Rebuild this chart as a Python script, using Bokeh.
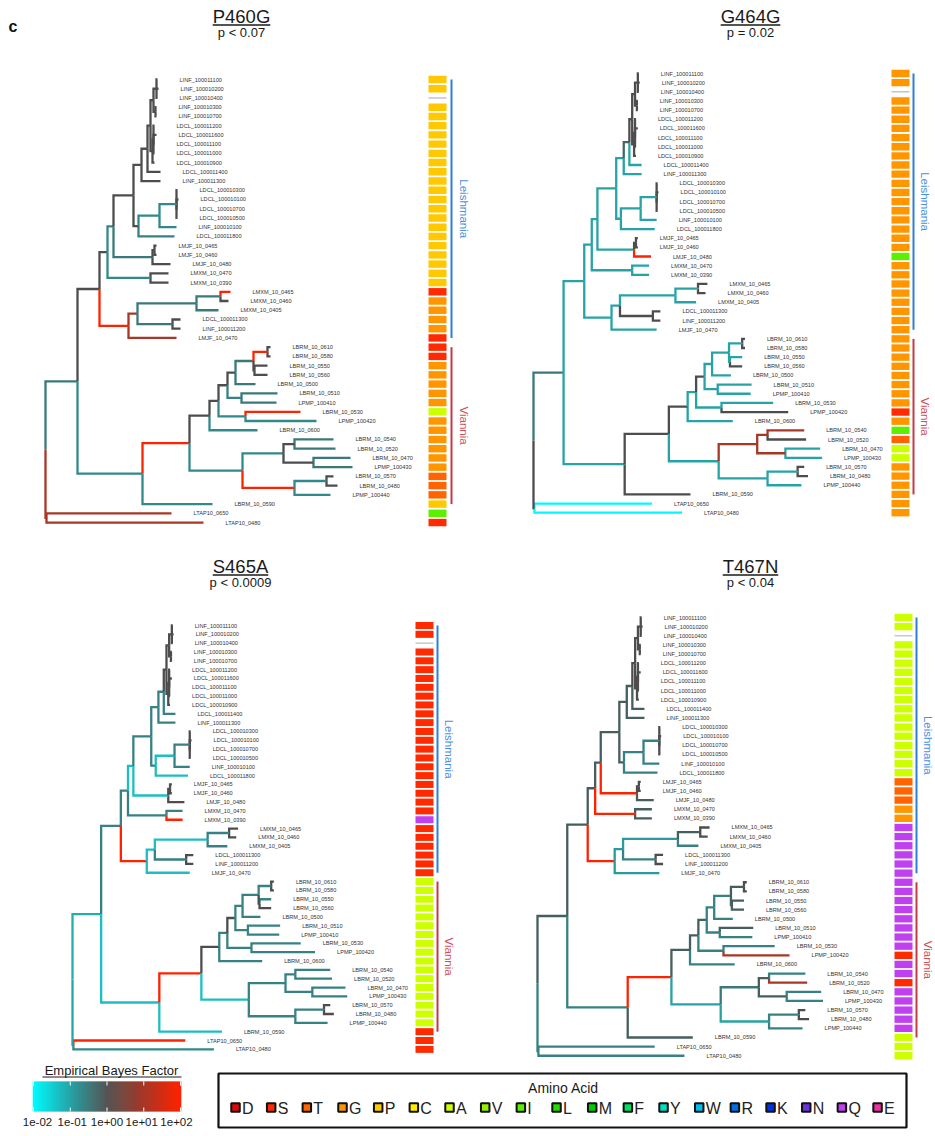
import numpy as np
from bokeh.plotting import figure
from bokeh.models import Range1d, ColumnDataSource, LinearColorMapper
from bokeh.transform import transform
from bokeh.core.properties import value
from bokeh.embed import file_html
from bokeh.resources import INLINE

# ---------------------------------------------------------------- data
tip_labels = [
    "LINF_100011100", "LINF_100010200", "LINF_100010400", "LINF_100010300", "LINF_100010700",
    "LDCL_100011200", "LDCL_100011600", "LDCL_100011100", "LDCL_100011000", "LDCL_100010900",
    "LDCL_100011400", "LINF_100011300", "LDCL_100010300", "LDCL_100010100", "LDCL_100010700",
    "LDCL_100010500", "LINF_100010100", "LDCL_100011800", "LMJF_10_0465", "LMJF_10_0460",
    "LMJF_10_0480", "LMXM_10_0470", "LMXM_10_0390", "LMXM_10_0465", "LMXM_10_0460",
    "LMXM_10_0405", "LDCL_100011300", "LINF_100011200", "LMJF_10_0470", "LBRM_10_0610",
    "LBRM_10_0580", "LBRM_10_0550", "LBRM_10_0560", "LBRM_10_0500", "LBRM_10_0510",
    "LPMP_100410", "LBRM_10_0530", "LPMP_100420", "LBRM_10_0600", "LBRM_10_0540",
    "LBRM_10_0520", "LBRM_10_0470", "LPMP_100430", "LBRM_10_0570", "LBRM_10_0480",
    "LPMP_100440", "LBRM_10_0590", "LTAP10_0650", "LTAP10_0480"]

# distance of each tip from the root (tree units)
tip_depth = [112, 113, 112, 111, 111, 109, 111, 109, 109, 109,
             115, 115, 132, 133, 132, 132, 131, 129, 111, 111,
             125, 123, 123, 185, 183, 173, 135, 135, 131, 225,
             225, 222, 222, 210, 232, 231, 255, 271, 212, 288,
             290, 305, 307, 288, 292, 285, 167, 126, 158]

# internal nodes: (first tip, last tip, depth from root)
internal_nodes = [
    (1, 49, 0), (48, 49, 1), (1, 47, 32), (1, 29, 54), (1, 23, 62), (1, 21, 68),
    (1, 18, 88), (1, 12, 96), (1, 11, 102), (1, 10, 105), (1, 5, 108), (1, 3, 111),
    (4, 5, 110), (6, 10, 107), (6, 9, 108), (13, 18, 93), (13, 17, 114), (13, 16, 131),
    (19, 21, 107), (19, 20, 109), (22, 23, 105), (24, 29, 83), (24, 28, 92),
    (24, 26, 151), (24, 25, 175), (27, 28, 127), (30, 47, 97), (30, 46, 144),
    (30, 39, 164), (30, 38, 173), (30, 36, 182), (30, 34, 190), (30, 33, 208),
    (30, 31, 222), (32, 33, 209), (35, 36, 196), (37, 38, 200), (40, 46, 197),
    (40, 43, 238), (40, 41, 249), (42, 43, 268), (44, 46, 249), (44, 45, 281)]

panel_titles = ["P460G", "G464G", "S465A", "T467N"]
panel_pvalues = ["p < 0.07", "p = 0.02", "p < 0.0009", "p < 0.04"]

# residue at each tip ("-" = gap)
residues_P460G = "PP-PPPPPPPPPPPPPPPPPPPPSGGGGSSSGGGGGAGGGGGGTTTPIS"
residues_G464G = "GG-GGGGGGGGGGGGGGGGGIGGGGGGGGGGGGGGGGSGITAAGGGGGG"
residues_S465A = "SS-SSSSSSSSSSSSSSSSSSSQSSSSSSAAAAAAAAAAAAAAAAASSS"
residues_T467N = "AA-AAAAAAAAAAAAAAATTTGGQQQQQQQQQQQQQQSQQSQQQQQAAA"

amino_acids = list("DSTGPCAVILMFYWRKNQE")
amino_colors = ["#dd0a0a", "#ff2a00", "#ff6400", "#ff9600", "#ffc800", "#ffee00",
                "#ccff00", "#99ee00", "#5cf000", "#22dd00", "#00cc00", "#00dd60",
                "#00ddc0", "#00bbee", "#0070e8", "#0030e0", "#6a30e8", "#c040f0",
                "#ee30a0"]

# log10 Empirical Bayes Factor per branch (branch keyed by clade tip range)
short_branches = [(1, 10), (1, 5), (6, 10), (1, 3), (4, 5), (6, 9)] + \
    [(k, k) for k in range(1, 11)] + \
    [(13, 13), (14, 14), (15, 15), (16, 16), (19, 20), (19, 19), (20, 20),
     (24, 24), (25, 25), (27, 27), (28, 28), (30, 30), (31, 31), (44, 44), (45, 45)]

ebf_default = [0.0, -1.0, -0.6, -0.2]
ebf_P460G = {(1, 47): -0.5, (48, 49): 1, (48, 48): 1, (49, 49): 1, (30, 47): -0.7,
             (24, 29): 2, (1, 21): -0.7, (22, 23): -0.7, (19, 21): -0.5,
             (13, 17): -0.7, (13, 16): -0.7, (17, 17): -0.7, (18, 18): -0.6,
             (24, 28): 1, (29, 29): 1, (24, 26): -0.5, (27, 28): -0.5,
             (24, 25): -0.5, (24, 24): 2, (26, 26): -0.5, (30, 46): 2,
             (47, 47): -0.7, (40, 46): -0.7, (39, 39): -0.7, (37, 38): -0.7,
             (37, 37): 2, (38, 38): -0.7, (30, 33): -0.5, (34, 34): -0.5,
             (35, 36): -0.6, (35, 35): -0.5, (36, 36): -0.5, (30, 31): 2,
             (40, 43): -0.7, (40, 40): -0.5, (41, 41): -0.5, (42, 42): -0.5,
             (43, 43): -0.5, (44, 46): 2, (44, 45): -0.7, (46, 46): -0.7}
ebf_G464G = {(1, 47): -0.5, (48, 49): 0, (48, 48): -2, (49, 49): -2, (21, 21): 2,
             (1, 11): -0.3, (27, 28): 0, (30, 46): 0, (47, 47): 0, (30, 39): 0,
             (30, 36): 0, (38, 38): 0, (33, 33): 0, (40, 43): 1, (40, 41): 1,
             (42, 43): 1, (40, 40): 1, (41, 41): 0}
ebf_S465A = {(1, 47): -1.1, (48, 49): -1.0, (48, 48): 2, (49, 49): -0.7,
             (30, 47): -1.3, (24, 29): 2, (1, 21): -1.3, (19, 21): -1.3, (21, 21): 0,
             (13, 17): -1.3, (18, 18): -1.3, (23, 23): 2, (24, 28): -1.3,
             (29, 29): -1.3, (24, 26): -1.3, (30, 46): 2, (47, 47): -1.3,
             (30, 39): 0, (40, 46): -1.3, (30, 36): 0, (32, 33): 0, (33, 33): 0}
ebf_T467N = {(48, 49): -0.6, (48, 48): -0.6, (49, 49): -0.6, (30, 47): -0.6,
             (24, 29): 2, (22, 23): 2, (19, 21): 2, (13, 17): -0.6, (13, 16): -0.6,
             (17, 17): -0.6, (18, 18): -0.6, (24, 28): -0.9, (29, 29): -0.9,
             (24, 26): -0.9, (27, 28): -0.6, (26, 26): -0.6, (30, 46): 2,
             (40, 46): -1.0, (39, 39): -0.6, (37, 38): -0.6, (37, 37): -0.6,
             (38, 38): 1, (30, 34): -0.6, (35, 36): -0.6, (30, 33): -0.6,
             (34, 34): -0.6, (36, 36): -0.6, (40, 43): -0.5, (40, 40): -0.6,
             (41, 41): 1, (42, 42): -0.6, (43, 43): -0.6, (44, 46): -1.0,
             (44, 45): -0.6, (46, 46): -0.6}

panel_residues = [residues_P460G, residues_G464G, residues_S465A, residues_T467N]
panel_ebf = [ebf_P460G, ebf_G464G, ebf_S465A, ebf_T467N]

clade_names = ["Leishmania", "Viannia"]
clade_tips = [(1, 29), (30, 47)]
clade_colors = ["#2f7ed8", "#c23a44"]
clade_text_colors = ["#4a90e2", "#d0505a"]

ebf_tick_log10 = [-2, -1, 0, 1, 2]
ebf_tick_labels = ["1e-02", "1e-01", "1e+00", "1e+01", "1e+02"]

# ---------------------------------------------------------------- layout (page px)
layout = [
    dict(root_x=45, scale=1.0, y0=79, dy=9.23, cell_x=437, bar_x=451, clade_x=463,
         title_x=241, title_y=16, p_y=32),
    dict(root_x=533, scale=0.94, y0=73, dy=9.15, cell_x=900, bar_x=913, clade_x=924,
         title_x=750, title_y=16, p_y=32),
    dict(root_x=72, scale=0.895, y0=625, dy=8.83, cell_x=424, bar_x=437, clade_x=448,
         title_x=240, title_y=566, p_y=582),
    dict(root_x=537, scale=0.93, y0=617, dy=9.13, cell_x=903, bar_x=916, clade_x=927,
         title_x=750, title_y=566, p_y=582),
]

FONT = value("Liberation Sans")
W, H = 935, 1136

# colour ramp cyan -> gray30 -> red
def ramp(t):
    cyan, gray, red = np.array([0, 250, 255]), np.array([77, 77, 77]), np.array([255, 34, 0])
    if t < 0:
        c = gray + (cyan - gray) * (-t / 2)
    else:
        c = gray + (red - gray) * (t / 2)
    return "#%02x%02x%02x" % tuple(int(round(v)) for v in c)

palette = [ramp(t) for t in np.linspace(-2, 2, 256)]
mapper = LinearColorMapper(palette=palette, low=-2, high=2)

p = figure(width=W, height=H, x_range=Range1d(0, W), y_range=Range1d(H, 0),
           output_backend="svg", toolbar_location=None, min_border=0,
           x_axis_type=None, y_axis_type=None)
p.outline_line_color = None
p.grid.visible = False

# ---------------------------------------------------------------- tree topology
nodes = [(k, k, tip_depth[k - 1]) for k in range(1, len(tip_labels) + 1)] + internal_nodes
def key(n):
    return (n[0], n[1])
parent = {}
for n in nodes:
    cands = [m for m in internal_nodes
             if m[0] <= n[0] and n[1] <= m[1] and key(m) != key(n)]
    if cands:
        parent[key(n)] = min(cands, key=lambda m: m[1] - m[0])
children = {}
for n in nodes:
    if key(n) in parent:
        children.setdefault(key(parent[key(n)]), []).append(n)

char_w = {"P": .667, "G": .778, "S": .667, "A": .667, "T": .611, "N": .722}
def text_width(s, size):
    return sum(char_w.get(c, .556) for c in s) * size

for i in range(4):
    L = layout[i]
    ypos = {}
    for k in range(1, len(tip_labels) + 1):
        ypos[(k, k)] = L["y0"] + (k - 1) * L["dy"]
    for n in sorted(internal_nodes, key=lambda m: m[1] - m[0]):
        cy = [ypos[key(c)] for c in children[key(n)]]
        ypos[key(n)] = (min(cy) + max(cy)) / 2
    xpos = {key(n): L["root_x"] + n[2] * L["scale"] for n in nodes}

    vals = {}
    for n in nodes:
        vals[key(n)] = ebf_default[i]
    for kk in short_branches:
        vals[kk] = 0.0
    vals.update(panel_ebf[i])

    xs, ys, vv = [], [], []
    for n in nodes:
        if key(n) not in parent:
            continue
        m = parent[key(n)]
        xs.append([xpos[key(m)], xpos[key(m)], xpos[key(n)]])
        ys.append([ypos[key(m)], ypos[key(n)], ypos[key(n)]])
        vv.append(vals[key(n)])
    src = ColumnDataSource(dict(xs=xs, ys=ys, v=vv))
    p.multi_line("xs", "ys", source=src, line_color=transform("v", mapper),
                 line_width=2.3, line_join="miter")

    # tip labels
    tx = [xpos[(k, k)] + 22 for k in range(1, len(tip_labels) + 1)]
    ty = [ypos[(k, k)] for k in range(1, len(tip_labels) + 1)]
    p.text(x=tx, y=ty, text=tip_labels, text_font=FONT, text_font_size="5.6px",
           text_align="left", text_baseline="middle", text_color="#333333")

    # residue column
    res = panel_residues[i]
    cx, cy2, ch, cc = [], [], [], []
    for k, r in enumerate(res, start=1):
        cx.append(L["cell_x"])
        cy2.append(ypos[(k, k)])
        if r == "-":
            ch.append(1.4)
            cc.append("#c4c4c4")
        else:
            ch.append(L["dy"] - 1.8)
            cc.append(amino_colors[amino_acids.index(r)])
    p.rect(x=cx, y=cy2, width=18, height=ch, fill_color=cc, line_color=None)

    # clade bars
    for name, (a, b), bc, tc in zip(clade_names, clade_tips, clade_colors, clade_text_colors):
        ya, yb = ypos[(a, a)], ypos[(b, b)]
        p.segment(x0=[L["bar_x"]], y0=[ya], x1=[L["bar_x"]], y1=[yb],
                  line_color=bc, line_width=2)
        p.text(x=[L["clade_x"]], y=[(ya + yb) / 2], text=[name], angle=-np.pi / 2,
               text_font=FONT, text_font_size="11.5px", text_align="center",
               text_baseline="middle", text_color=tc)

    # titles
    t = panel_titles[i]
    p.text(x=[L["title_x"]], y=[L["title_y"]], text=[t], text_font=FONT,
           text_font_size="18.5px", text_align="center", text_baseline="middle",
           text_color="#1a1a1a")
    w = text_width(t, 18.5)
    p.segment(x0=[L["title_x"] - w / 2], y0=[L["title_y"] + 8.5], x1=[L["title_x"] + w / 2],
              y1=[L["title_y"] + 8.5], line_color="#1a1a1a", line_width=1.3)
    p.text(x=[L["title_x"]], y=[L["p_y"]], text=[panel_pvalues[i]], text_font=FONT,
           text_font_size="13px", text_align="center", text_baseline="middle",
           text_color="#1a1a1a")

# panel letter
p.text(x=[8], y=[26], text=["c"], text_font=FONT, text_font_size="16px",
       text_font_style="bold", text_baseline="middle", text_color="#111111")

# ---------------------------------------------------------------- colour bar legend
cb_x0, cb_x1, cb_y0, cb_y1 = 33, 180, 1081, 1111
nstrip = 147
sv = np.linspace(-2, 2, nstrip)
sx = cb_x0 + (sv + 2) / 4 * (cb_x1 - cb_x0)
cb_src = ColumnDataSource(dict(x=sx, y=[(cb_y0 + cb_y1) / 2] * nstrip, v=sv))
p.rect(x="x", y="y", width=(cb_x1 - cb_x0) / (nstrip - 1) + 0.6, height=cb_y1 - cb_y0,
       fill_color=transform("v", mapper), line_color=None, source=cb_src)
tick_x = [cb_x0 + (t + 2) / 4 * (cb_x1 - cb_x0) for t in ebf_tick_log10]
p.segment(x0=tick_x, y0=[cb_y0] * 5, x1=tick_x, y1=[cb_y0 + 4] * 5, line_color="white", line_width=1)
p.segment(x0=tick_x, y0=[cb_y1 - 4] * 5, x1=tick_x, y1=[cb_y1] * 5, line_color="white", line_width=1)
lab_x0, lab_x1 = 37, 176
lab_x = [lab_x0 + j * (lab_x1 - lab_x0) / (len(ebf_tick_labels) - 1)
         for j in range(len(ebf_tick_labels))]
p.text(x=lab_x, y=[1121] * 5, text=ebf_tick_labels, text_font=FONT, text_font_size="11.5px",
       text_align="center", text_baseline="middle", text_color="#1a1a1a")
cb_title = "Empirical Bayes Factor"
p.text(x=[111], y=[1070], text=[cb_title], text_font=FONT, text_font_size="13px",
       text_align="center", text_baseline="middle", text_color="#1a1a1a")
p.segment(x0=[42], y0=[1076.5], x1=[181], y1=[1076.5], line_color="#1a1a1a", line_width=1)

# ---------------------------------------------------------------- amino acid legend
p.rect(x=[562], y=[1100], width=688, height=54, fill_color=None, line_color="#111111",
       line_width=2.2)
p.text(x=[563], y=[1087], text=["Amino Acid"], text_font=FONT, text_font_size="14px",
       text_align="center", text_baseline="middle", text_color="#1a1a1a")
ax = [235 + 35.67 * j for j in range(len(amino_acids))]
p.rect(x=ax, y=[1107] * len(ax), width=8.5, height=8.5, fill_color=amino_colors,
       line_color="#111111", line_width=2)
p.text(x=[a + 6.5 for a in ax], y=[1107.5] * len(ax), text=amino_acids, text_font=FONT,
       text_font_size="16px", text_align="left", text_baseline="middle",
       text_color="#222222")

open("out.html", "w").write(file_html(p, INLINE))
